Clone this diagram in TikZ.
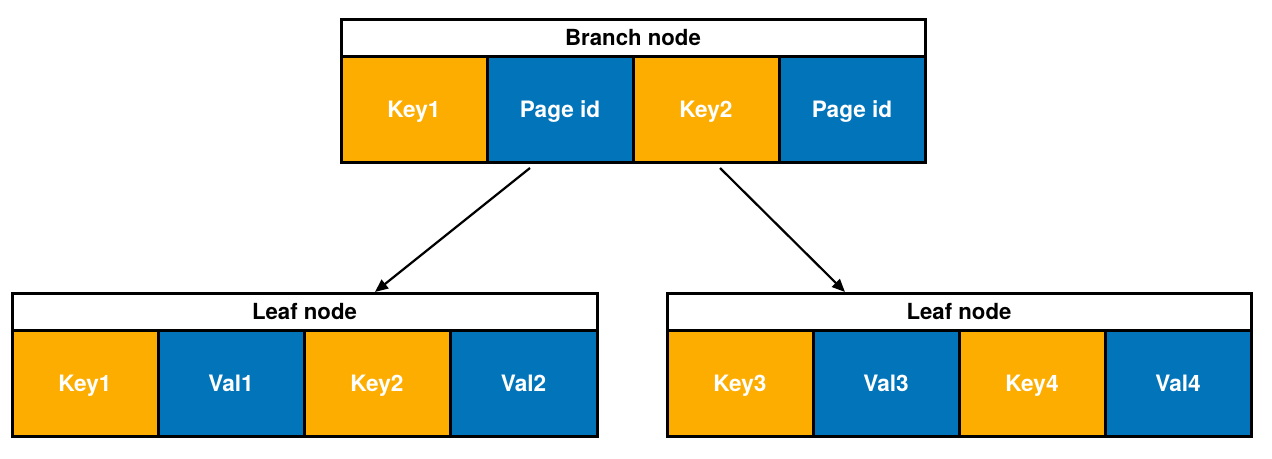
\documentclass[tikz,border=0pt]{standalone}
\usepackage{fontspec}
\setmainfont{TeX Gyre Heros}
\usetikzlibrary{arrows.meta}
\definecolor{keyorange}{RGB}{253,173,0}
\definecolor{valblue}{RGB}{2,116,186}
\tikzset{
  cell/.style={draw=black, line width=3pt, minimum width=146pt, minimum height=106pt, inner sep=0pt, text height=16.5pt, text depth=0pt, text=white, font=\fontsize{22.6}{26}\selectfont\bfseries},
  keycell/.style={cell, fill=keyorange},
  valcell/.style={cell, fill=valblue},
  titlebox/.style={draw=black, line width=3pt, fill=white, minimum height=37pt, inner sep=0pt, text height=16pt, text depth=0pt, font=\fontsize{22.2}{25}\selectfont\bfseries},
  link/.style={line width=2.2pt, -{Triangle[length=13pt,width=11pt]}}
}
\begin{document}
\begin{tikzpicture}[x=1pt,y=-1pt]
\useasboundingbox (0,0) rectangle (1272,458);
% Branch node
\node[titlebox, minimum width=584pt] (bt) at (633,37.5) {Branch node};
\node[keycell] (b1) at (414,109) {Key1};
\node[valcell] (b2) at (560,109) {Page id};
\node[keycell] (b3) at (706,109) {Key2};
\node[valcell] (b4) at (852,109) {Page id};
% Left leaf
\node[titlebox, minimum width=585pt] (lt) at (304.5,311.5) {Leaf node};
\node[keycell] (l1) at (85,383) {Key1};
\node[valcell] (l2) at (231,383) {Val1};
\node[keycell] (l3) at (377,383) {Key2};
\node[valcell, minimum width=147pt] (l4) at (523.5,383) {Val2};
% Right leaf
\node[titlebox, minimum width=584pt] (rt) at (959,311.5) {Leaf node};
\node[keycell] (r1) at (740,383) {Key3};
\node[valcell] (r2) at (886,383) {Val3};
\node[keycell] (r3) at (1032,383) {Key4};
\node[valcell] (r4) at (1178,383) {Val4};
% Arrows
\coordinate (s1) at (530,168);
\coordinate (e1) at (375,292);
\coordinate (s2) at (720,168);
\coordinate (e2) at (845,292);
\draw[link] (s1) -- (e1);
\draw[link] (s2) -- (e2);
\end{tikzpicture}
\end{document}
